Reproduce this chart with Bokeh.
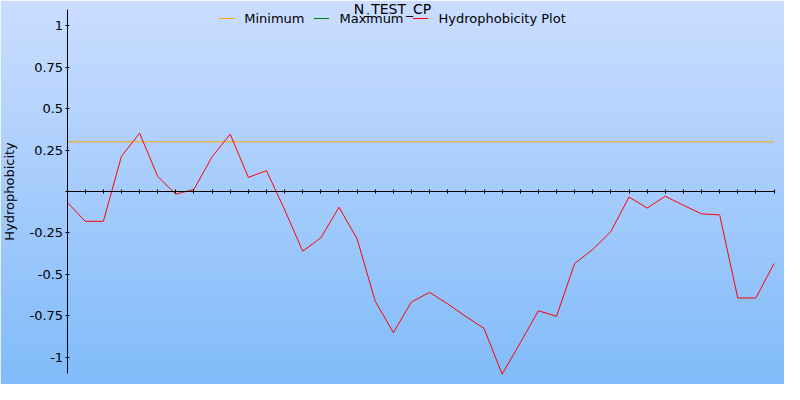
import numpy as np
from bokeh.plotting import figure
from bokeh.models import (Range1d, FixedTicker, CustomJSTickFormatter, Legend,
                          LegendItem, Label)
from bokeh.embed import file_html
from bokeh.resources import INLINE

# ---- data ----
title_text = "N_TEST_CP"
positions = list(range(40))
hydrophobicity = [-0.064, -0.18, -0.18, 0.213, 0.352, 0.091, -0.016, 0.013, 0.21, 0.346,
                  0.085, 0.126, -0.11, -0.36, -0.28, -0.095, -0.286, -0.663, -0.852, -0.667,
                  -0.609, -0.679, -0.755, -0.827, -1.103, -0.914, -0.72, -0.754, -0.435, -0.35,
                  -0.242, -0.033, -0.10, -0.029, -0.083, -0.135, -0.141, -0.643, -0.643, -0.435]
minimum_value = 0.30
minimum = [minimum_value] * len(positions)
maximum_x = [0]
maximum_y = [float("nan")]   # no maximum line is visible in the chart
y_ticks = [-1, -0.75, -0.5, -0.25, 0, 0.25, 0.5, 0.75, 1]

W, H = 784, 384
FONT = "DejaVu Sans"

x0, x1 = -3.674, 39.578
y0, y1 = -1.1655, 1.1534

p = figure(width=W, height=H, x_range=Range1d(x0, x1), y_range=Range1d(y0, y1),
           output_backend="svg", toolbar_location=None, min_border=0, title=None)
p.outline_line_color = None
p.grid.visible = False
p.border_fill_color = "#a5ccfc"

# vertical gradient background
top = np.array([203, 221, 255], dtype=float)
bot = np.array([128, 187, 249], dtype=float)
img = np.zeros((H, 1), dtype=np.uint32)
view = img.view(dtype=np.uint8).reshape((H, 1, 4))
for i in range(H):
    r = H - 1 - i  # pixel row from top
    t = r / (H - 1)
    c = top * (1 - t) + bot * t
    view[i, 0, 0] = int(round(c[0]))
    view[i, 0, 1] = int(round(c[1]))
    view[i, 0, 2] = int(round(c[2]))
    view[i, 0, 3] = 255
p.image_rgba(image=[img], x=x0, y=y0, dw=x1 - x0, dh=y1 - y0, level="image")

r_min = p.line(positions, minimum, line_color="orange", line_width=1)
r_max = p.line(maximum_x, maximum_y, line_color="green", line_width=1)
r_hyd = p.line(positions, hydrophobicity, line_color="red", line_width=1)

# axes crossing at zero
xa = p.xaxis[0]
xa.fixed_location = 0
xa.ticker = FixedTicker(ticks=positions)
xa.formatter = CustomJSTickFormatter(code="return '';")
xa.bounds = (positions[0], positions[-1])
xa.major_tick_in = 2
xa.major_tick_out = 2
xa.minor_tick_line_color = None
xa.axis_line_color = "black"
xa.major_tick_line_color = "black"

ya = p.yaxis[0]
ya.fixed_location = 0
ya.ticker = FixedTicker(ticks=y_ticks)
ya.formatter = CustomJSTickFormatter(code="return tick == 0 ? '' : String(tick);")
ya.bounds = (-1.1, 1.1)
ya.major_tick_in = 2
ya.major_tick_out = 2
ya.minor_tick_line_color = None
ya.axis_line_color = "black"
ya.major_tick_line_color = "black"
ya.major_label_standoff = 2
ya.major_label_text_font = FONT
ya.major_label_text_font_size = "13px"
ya.major_label_text_color = "black"
ya.axis_label = "Hydrophobicity"
ya.axis_label_text_font = FONT
ya.axis_label_text_font_size = "13px"
ya.axis_label_text_font_style = "normal"
ya.axis_label_text_color = "black"
ya.axis_label_standoff = 10

legend = Legend(items=[LegendItem(label="Minimum", renderers=[r_min]),
                       LegendItem(label="Maximum", renderers=[r_max]),
                       LegendItem(label="Hydrophobicity Plot", renderers=[r_hyd])],
                orientation="horizontal", location="top_center",
                background_fill_alpha=0, border_line_color=None,
                label_text_font=FONT, label_text_font_size="13px",
                label_text_color="black",
                glyph_width=16, glyph_height=14, label_height=20,
                label_standoff=10, spacing=9, padding=0, margin=8)
p.add_layout(legend)

p.add_layout(Label(x=W / 2, y=H, x_units="screen", y_units="screen", text=title_text,
                   text_align="center", text_baseline="top", text_font=FONT,
                   text_font_size="14px", text_color="black"))

open("out.html", "w").write(file_html(p, INLINE))
